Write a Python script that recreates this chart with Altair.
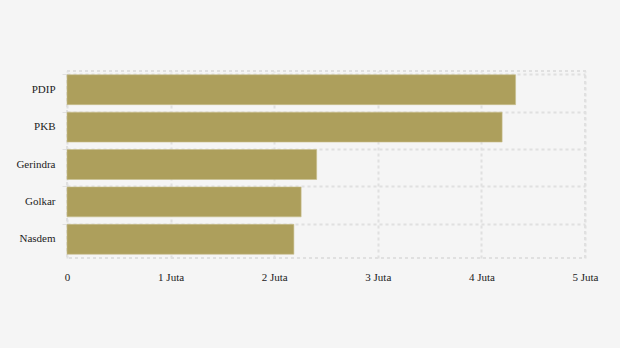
import altair as alt
import pandas as pd

parties = ["PDIP", "PKB", "Gerindra", "Golkar", "Nasdem"]
votes = [4330000, 4200000, 2410000, 2260000, 2190000]

df = pd.DataFrame({"party": parties, "votes": votes})

grid_color = "#e0e0e0"

chart = alt.Chart(df).mark_bar(
    color="#ad9f5c", stroke="#c9bf8e", strokeWidth=0.6
).encode(
    x=alt.X("votes:Q", scale=alt.Scale(domain=[0, 5000000], nice=False),
            axis=alt.Axis(title=None, values=[0, 1000000, 2000000, 3000000, 4000000, 5000000],
                          labelExpr="datum.value == 0 ? '0' : (datum.value / 1000000) + ' Juta'",
                          domain=False, ticks=False, labelPadding=13,
                          labelFlush=False, labelAlign="center", labelOverlap=False,
                          grid=True, gridColor=grid_color, gridDash=[3, 3], gridWidth=2)),
    y=alt.Y("party:N", sort=parties, scale=alt.Scale(paddingInner=0.2, paddingOuter=0.1),
            axis=alt.Axis(title=None, domain=False, ticks=True, tickSize=5, tickColor="#e0e0e0",
                          labelPadding=7, grid=True, bandPosition=0,
                          gridColor=grid_color, gridDash=[3, 3], gridWidth=2)),
).properties(
    width=518, height=187,
    background="#f5f5f5",
    padding={"left": 67, "top": 71, "right": 35, "bottom": 90},
    autosize=alt.AutoSizeParams(type="none"),
).configure_view(
    stroke=grid_color, strokeDash=[3, 3], strokeWidth=2
).configure_axis(
    labelFont="Liberation Serif, Times New Roman, serif", labelFontSize=11, labelColor="#222222"
)

chart.save("out.html", embed_options={"renderer": "svg", "actions": False})
